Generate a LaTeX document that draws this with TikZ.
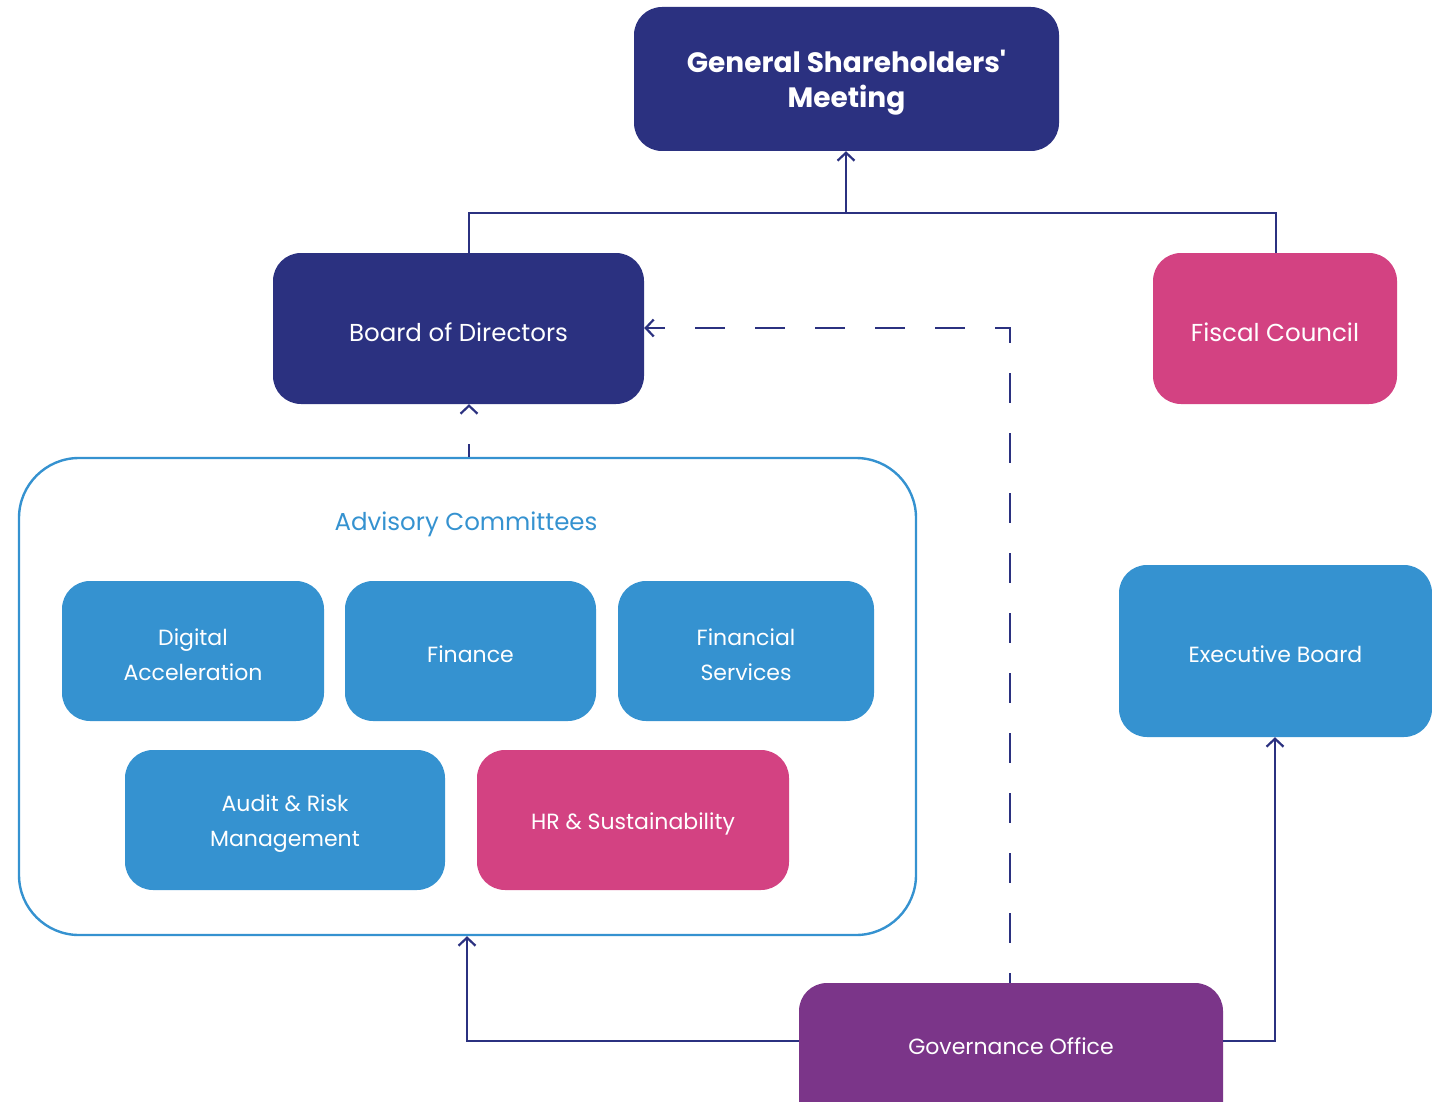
\documentclass[tikz,border=0pt]{standalone}
\usepackage{fontspec}
\setmainfont{Poppins}
\usetikzlibrary{arrows.meta}
\definecolor{navy}{HTML}{2B3180}
\definecolor{sky}{HTML}{3592D0}
\definecolor{rose}{HTML}{D34282}
\definecolor{plum}{HTML}{7B3589}
\tikzset{
  box/.style={rounded corners=28pt, draw=none, inner sep=0pt},
  caption/.style={text=white, align=center, inner sep=0pt, yshift=-3.5pt,
    font=\fontsize{22}{35}\selectfont},
  big caption/.style={caption, font=\fontsize{24.5}{35}\selectfont},
  link/.style={draw=navy, line width=2.4pt},
  tip/.style={-{Straight Barb[length=8pt,width=17pt,line width=2.2pt]}},
  dash link/.style={link, dash pattern=on 30pt off 30pt},
}
\begin{document}
\begin{tikzpicture}[x=1pt,y=-1pt]
\useasboundingbox (0,0) rectangle (1432,1102);
% advisory committees frame and its title
\node[draw=sky, line width=2.4pt, rounded corners=60pt, minimum width=897pt, minimum height=477pt, inner sep=0pt]
  (adv) at (467.5,696.5) {};
\node[text=sky, font=\fontsize{24.5}{26}\selectfont, inner sep=0pt] (advt) at (466,524) {Advisory Committees};
% boxes
\node[box, fill=navy, minimum width=425pt, minimum height=144pt,
  label={[caption, font=\fontsize{28}{35}\bfseries\addfontfeature{Ligatures=TeXOff}\selectfont, yshift=-0.5pt]center:General Shareholders'\\Meeting}]
  (gsm) at (846.5,79) {};
\node[box, fill=navy, minimum width=371pt, minimum height=151pt,
  label={[big caption]center:Board of Directors}] (bod) at (458.5,328.5) {};
\node[box, fill=rose, minimum width=244pt, minimum height=151pt,
  label={[big caption]center:Fiscal Council}] (fc) at (1275,328.5) {};
\node[box, fill=sky, minimum width=262pt, minimum height=140pt,
  label={[caption]center:Digital\\Acceleration}] (dig) at (193,651) {};
\node[box, fill=sky, minimum width=251pt, minimum height=140pt,
  label={[caption]center:Finance}] (fin) at (470.5,651) {};
\node[box, fill=sky, minimum width=256pt, minimum height=140pt,
  label={[caption]center:Financial\\Services}] (fs) at (746,651) {};
\node[box, fill=sky, minimum width=320pt, minimum height=140pt,
  label={[caption]center:Audit \& Risk\\Management}] (aud) at (285,820) {};
\node[box, fill=rose, minimum width=312pt, minimum height=140pt,
  label={[caption]center:HR \& Sustainability}] (hr) at (633,820) {};
\node[box, fill=sky, minimum width=313pt, minimum height=172pt,
  label={[caption]center:Executive Board}] (exb) at (1275.5,651) {};
\node[box, fill=plum, minimum width=424pt, minimum height=150pt] (gov) at (1011,1058) {};
\node[caption, yshift=0pt] (govt) at (1011,1043) {Governance Office};
% reporting lines
\coordinate (bus) at (846,213);
\draw[link] (bod.north -| 469,0) |- (bus) -| (fc.north -| 1276,0);
\draw[link, tip] (bus) -- (gsm.south -| bus);
\draw[dash link, dash phase=20pt, tip] (gov.north -| 1010,0) |- (bod.east |- 0,328);
\draw[link, dash pattern=on 13pt off 60pt, tip] (adv.north -| 469,0) -- (bod.south -| 469,0);
\draw[link, tip] (gov.west |- 0,1041) -| (adv.south -| 467,0);
\draw[link, tip] (gov.east |- 0,1041) -| (exb.south -| 1275,0);
\end{tikzpicture}
\end{document}
